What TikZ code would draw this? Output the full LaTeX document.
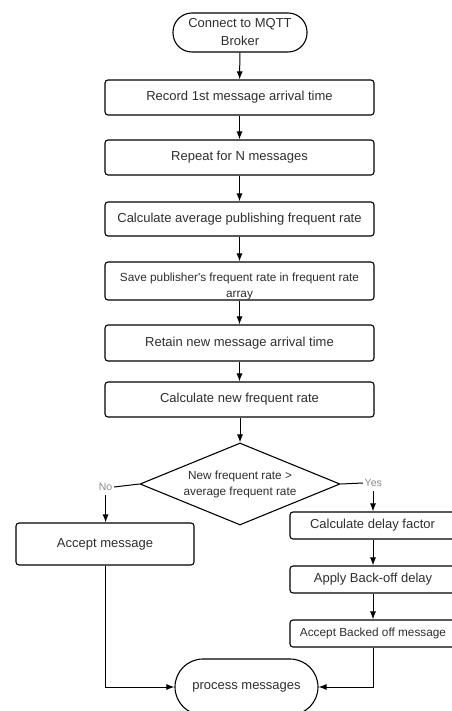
\documentclass[tikz,border=0pt]{standalone}
\usepackage{fontspec}
\setmainfont{Liberation Sans}
\usetikzlibrary{shapes.geometric,arrows.meta}
\definecolor{txt}{HTML}{2E2E2E}
\definecolor{lbl}{HTML}{8A8A8A}
\tikzset{
  box/.style={draw=black, line width=1.1pt, rectangle, rounded corners=3pt, inner sep=0pt, text=txt, font=\fontsize{13}{16}\selectfont},
  term/.style={draw=black, line width=1.1pt, rectangle, inner sep=0pt, text=txt, align=center},
  arr/.style={line width=1pt, -{Latex[length=8pt,width=6pt]}},
  ln/.style={line width=1pt},
  yn/.style={text=lbl, inner sep=1.5pt, font=\fontsize{10.5}{12}\selectfont},
}
\begin{document}
\begin{tikzpicture}[x=1pt,y=-1pt]
\useasboundingbox (0,0) rectangle (451,711);
\node[term, rounded corners=19pt, minimum width=134pt, minimum height=39pt, font=\fontsize{13}{18}\selectfont] (start) at (240,32.5) {Connect to MQTT\\Broker};
\node[box, minimum width=269pt, minimum height=35pt] (b1) at (239.5,97.5) {Record 1st message arrival time};
\node[box, minimum width=269pt, minimum height=35pt] (b2) at (239.5,157.5) {Repeat for N messages};
\node[box, minimum width=269pt, minimum height=34pt] (b3) at (239.5,219) {Calculate average publishing frequent rate};
\node[box, minimum width=269pt, minimum height=38pt] (b4) at (239.5,281) {};
\node[text=txt, inner sep=0pt, align=center, font=\fontsize{11.8}{16}\selectfont] (t4) at (239.5,286) {Save publisher\textquotesingle s frequent rate in frequent rate\\array};
\node[box, minimum width=269pt, minimum height=36pt] (b5) at (239.5,343) {Retain new message arrival time};
\node[box, minimum width=269pt, minimum height=35pt] (b6) at (239.5,399.5) {Calculate new frequent rate};
\node[diamond, aspect=2.44, draw=black, line width=1.1pt, minimum width=200pt, minimum height=82pt, inner sep=0pt, text=txt, align=center, font=\fontsize{11.8}{16}\selectfont] (dec) at (240,484) {New frequent rate >\\average frequent rate};
\node[yn, anchor=east] (no) at (114,487) {No};
\node[yn, anchor=west] (yes) at (363,483) {Yes};
\node[box, minimum width=178pt, minimum height=42pt] (acc) at (105,544) {Accept message};
\node[box, minimum width=166pt, minimum height=27pt] (cdf) at (373,525.5) {\hspace{-1pt}Calculate delay factor\hspace{1pt}};
\node[box, minimum width=166pt, minimum height=27pt] (abd) at (373,579.5) {Apply Back-off delay};
\node[box, minimum width=166pt, minimum height=27pt, font=\fontsize{11.8}{14}\selectfont] (abm) at (373,633.5) {Accept Backed off message};
\node[term, rounded corners=28pt, minimum width=143pt, minimum height=56pt, font=\fontsize{13}{16}\selectfont] (proc) at (246.5,687) {process messages};
\draw[arr] (start) -- (b1);
\draw[arr] (b1) -- (b2);
\draw[arr] (b2) -- (b3);
\draw[arr] (b3) -- (b4);
\draw[arr] (b4) -- (b5);
\draw[arr] (b5) -- (b6);
\draw[arr] (b6.south -| dec.north) -- (dec.north);
\draw[ln] (dec.west) -- (no.east);
\draw[ln] (dec.east) -- (yes.west);
\draw[arr] ([yshift=-3pt]no.south) -- (acc.north -| no.south);
\draw[arr] ([yshift=-3pt]yes.south -| cdf.north) -- (cdf.north);
\draw[arr] (cdf) -- (abd);
\draw[arr] (abd) -- (abm);
\draw[arr] (acc.south) |- (proc.west);
\draw[arr] (abm.south) |- (proc.east);
\end{tikzpicture}
\end{document}
